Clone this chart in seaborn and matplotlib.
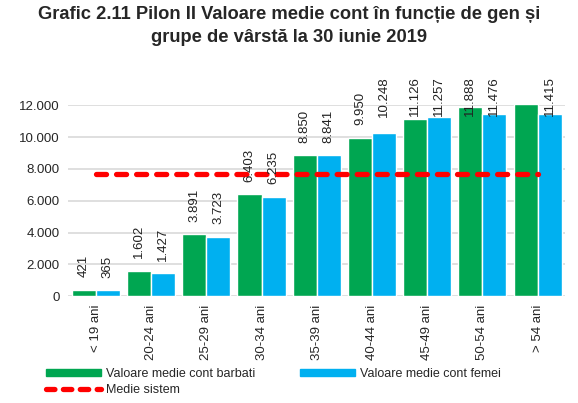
import pandas as pd
import matplotlib
matplotlib.use("Agg")
import matplotlib.pyplot as plt
import seaborn as sns
from matplotlib.lines import Line2D
from matplotlib.patches import Patch

# data
age_groups = ['< 19 ani', '20-24 ani', '25-29 ani', '30-34 ani', '35-39 ani',
              '40-44 ani', '45-49 ani', '50-54 ani', '> 54 ani']
men = [421, 1602, 3891, 6403, 8850, 9950, 11126, 11888, 12050]
women = [365, 1427, 3723, 6235, 8841, 10248, 11257, 11476, 11415]
system_avg = 7650
label_men = 'Valoare medie cont barbati'
label_women = 'Valoare medie cont femei'
label_avg = 'Medie sistem'

green = '#00A651'
blue = '#00B0F0'
red = '#FF0000'

df = pd.DataFrame({
    'grupa': age_groups * 2,
    'valoare': men + women,
    'serie': [label_men] * len(men) + [label_women] * len(women),
})

sns.set_style('white')
plt.rcParams['font.family'] = ['Liberation Sans', 'DejaVu Sans']

fig = plt.figure(figsize=(5.78, 4.03), dpi=100)
ax = fig.add_axes([0.118, 0.265, 0.86, 0.474])

sns.barplot(data=df, x='grupa', y='valoare', hue='serie', order=age_groups,
            palette=[green, blue], width=0.87, saturation=1, legend=False, ax=ax,
            zorder=2)

ax.plot(range(len(age_groups)), [system_avg] * len(age_groups), color=red,
        lw=3.8, ls=(0, (1.9, 1.9)), dash_capstyle='round', zorder=3)

def fmt(v):
    return f'{v:,}'.replace(',', '.')

# value labels; tall ones get pushed down to stay inside the chart area
cap = 13800
for i, c in enumerate(ax.containers):
    vals = men if i == 0 else women
    for j, (bar, v) in enumerate(zip(c, vals)):
        if i == 0 and j == len(vals) - 1:
            continue
        x = bar.get_x() + bar.get_width() / 2
        t = ax.text(x, v + 800, fmt(v), rotation=90, ha='center', va='bottom',
                    fontsize=9.5, color='#222222', zorder=4, clip_on=False)
        if v > 10000:
            t.set_y(cap)
            t.set_va('top')

ax.set_xlim(-0.5, 8.5)
ax.set_ylim(0, 12000)
ax.set_yticks(range(0, 12001, 2000))
ax.set_yticklabels([fmt(v) for v in range(0, 12001, 2000)], fontsize=9.5)
ax.set_xticks(range(len(age_groups)))
ax.set_xticklabels(age_groups, rotation=90, fontsize=9.5)
ax.tick_params(axis='both', length=0, pad=6)
ax.set_xlabel('')
ax.set_ylabel('')
ax.yaxis.grid(True, color='#D9D9D9', lw=1.2, zorder=0)
ax.set_axisbelow(True)
for s in ax.spines.values():
    s.set_visible(False)

fig.suptitle('Grafic 2.11 Pilon II Valoare medie cont în funcție de gen și\n'
             'grupe de vârstă la 30 iunie 2019',
             fontsize=13.2, fontweight='bold', x=0.5, y=0.985, linespacing=1.45)

handles = [Patch(color=green, label=label_men),
           Line2D([0], [0], color=red, lw=3.8, ls=(0, (1.6, 1.6)),
                  dash_capstyle='round', label=label_avg),
           Patch(color=blue, label=label_women)]
fig.legend(handles=handles, ncol=2, loc='lower left', bbox_to_anchor=(0.06, -0.01),
           frameon=False, fontsize=9, handlelength=4.4, handleheight=0.55,
           handletextpad=0.4, columnspacing=3.6, labelspacing=0.3)

fig.savefig('out.png', dpi=100)
